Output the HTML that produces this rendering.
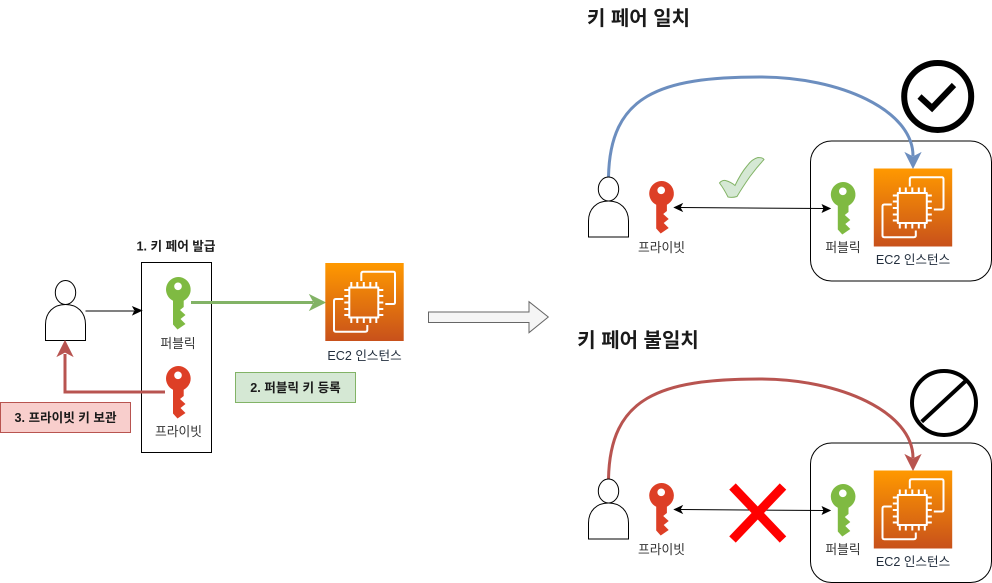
<!DOCTYPE html>
<html><head><meta charset="utf-8"><style>
html,body{margin:0;padding:0;background:#fff}
svg{display:block}
text{font-family:"Liberation Sans","Noto Sans CJK KR",sans-serif;text-anchor:middle}
.l{font-size:12.8px;fill:#333}
.e{font-size:12.6px;fill:#232F3E}
.b{font-size:12.6px;font-weight:bold;fill:#1a1a1a}
.t{font-size:20px;font-weight:bold;fill:#1a1a1a}
</style></head><body>
<svg width="992" height="583" viewBox="0 0 992 583" xmlns="http://www.w3.org/2000/svg">
<defs>
<linearGradient id="g" x1="0" y1="1" x2="0" y2="0"><stop offset="0" stop-color="#C8511B"/><stop offset="1" stop-color="#FF9900"/></linearGradient>
<g id="key"><path fill-rule="evenodd" d="M12.5 0A12.5 12.500 0 0 1 18.200 23.700V30L14.500 33 20 38 15 42 20 47 12 52.500 7.500 47.500V23.700A12.500 12.500 0 0 1 12.500 0ZM12.500 5.500a3.800 3.800 0 1 0 .01 0Z"/></g>
<g id="ec2">
<rect width="78.400" height="78" fill="url(#g)"/>
<g fill="none" stroke="#fff" stroke-width="2" stroke-linejoin="round">
<path d="M36 18V10.500Q36 8.700 38 8.700H68Q69.700 8.700 69.700 10.500V39.500Q69.700 41 68 41H60"/>
<path d="M18 36H10.500Q8.700 36 8.700 38V67Q8.700 68.700 10.500 68.700H40Q42 68.700 42 67V62"/>
<rect x="24" y="24.500" width="29" height="30"/>
<path d="M26 24V19M32 24V19M38.500 24V19M45 24V19M51 24V19M26 55V60M32 55V60M38.500 55V60M45 55V60M51 55V60M24 27H19M24 33H19M24 39.500H19M24 46H19M24 52H19M53 27H58M53 33H58M53 39.500H58M53 46H58M53 52H58"/>
</g></g>
<g id="person" fill="#fff" stroke="#000" stroke-width="1">
<ellipse cx="20" cy="12" rx="10.200" ry="12"/>
<path d="M0 60V44C0 32 8 24 20 24S40 32 40 44V60Z"/>
</g>
</defs>
<rect width="992" height="583" fill="#fff"/>

<!-- left section -->
<use href="#person" x="45.500" y="280.500"/>
<rect x="141.500" y="262.500" width="70" height="190" fill="#fff" stroke="#000"/>
<path d="M85.500 311H134" stroke="#000" fill="none"/>
<path d="M141.500 310.500L133 314.500 135 310.500 133 307Z" fill="#000" stroke="#000"/>
<use href="#key" x="165.500" y="277" fill="#7FBA42"/>
<use href="#key" x="165.500" y="366" fill="#DD3F26"/>
<path d="M191 302.500H313" stroke="#82b366" stroke-width="3" fill="none"/>
<path d="M325 302.500L310 310 314 302.500 310 295Z" fill="#82b366" stroke="#82b366"/>
<path d="M165 392H65V354" stroke="#b85450" stroke-width="3" fill="none"/>
<path d="M65 341L72.500 356 65 352 57.500 356Z" fill="#b85450" stroke="#b85450"/>
<text class="b" x="176" y="250.500">1. 키 페어 발급</text>
<text class="l" x="178" y="348">퍼블릭</text>
<text class="l" x="178.500" y="436">프라이빗</text>
<use href="#ec2" x="325.300" y="263"/>
<text class="e" x="364.500" y="360">EC2 인스턴스</text>
<rect x="235.500" y="372.500" width="120" height="30" fill="#d5e8d4" stroke="#82b366"/>
<text class="b" x="295.500" y="392">2. 퍼블릭 키 등록</text>
<rect x="0.500" y="402.500" width="130" height="30" fill="#f8cecc" stroke="#b85450"/>
<text class="b" x="65.500" y="422">3. 프라이빗 키 보관</text>
<path d="M428.500 312H529V301.700L548.300 317 529 332.700V322.500H428.500Z" fill="#f5f5f5" stroke="#666"/>

<!-- upper right -->
<text class="t" x="638.500" y="25">키 페어 일치</text>
<rect x="810.500" y="141" width="181" height="140" rx="21" fill="#fff" stroke="#000"/>
<path d="M608.500 177C610 95 660 77 760 77C840 77 913 110 913 156" fill="none" stroke="#6c8ebf" stroke-width="3"/>
<path d="M913 168L905.500 153 913 157 920.500 153Z" fill="#6c8ebf" stroke="#6c8ebf"/>
<circle cx="937.700" cy="96.500" r="33.500" fill="#fff" stroke="#000" stroke-width="6"/>
<path d="M919.500 96.500L932 108 954 85" fill="none" stroke="#000" stroke-width="6"/>
<use href="#person" x="588.500" y="177"/>
<use href="#key" x="648.700" y="181" fill="#DD3F26"/>
<use href="#key" x="830.300" y="182" fill="#7FBA42"/>
<use href="#ec2" x="873.800" y="168.500"/>
<path d="M680 207.500L824 208.500" stroke="#000" fill="none"/>
<path d="M674.500 207.500L682 204 680 207.500 682 211Z" fill="#000" stroke="#000"/>
<path d="M830 208.500L822.500 205 824 208.500 822.500 212Z" fill="#000" stroke="#000"/>
<path d="M719.500 183Q722 180 725.500 180.500Q731 182 735 185.500Q741 173 747 166Q752 159 758 157.500Q763 157.500 764 159.500Q757 167 750 176.500Q742 188 737 196.500Q732 198 728 197Q724 189 719.500 183Z" fill="#d5e8d4" stroke="#82b366"/>
<text class="l" x="661.500" y="252">프라이빗</text>
<text class="l" x="843" y="252">퍼블릭</text>
<text class="e" x="913" y="264">EC2 인스턴스</text>

<!-- lower right -->
<text class="t" x="638" y="347">키 페어 불일치</text>
<rect x="810.500" y="443" width="181" height="139.500" rx="21" fill="#fff" stroke="#000"/>
<path d="M608.500 479C610 397 660 379 760 379C840 379 913 412 913 458" fill="none" stroke="#b85450" stroke-width="3"/>
<path d="M913 470L905.500 455 913 459 920.500 455Z" fill="#b85450" stroke="#b85450"/>
<circle cx="944" cy="403" r="32" fill="#fff" stroke="#000" stroke-width="4"/>
<path d="M921.700 421.700L966.700 380" fill="none" stroke="#000" stroke-width="4"/>
<use href="#person" x="588.500" y="479"/>
<use href="#key" x="648.700" y="483" fill="#DD3F26"/>
<use href="#key" x="830.300" y="484" fill="#7FBA42"/>
<use href="#ec2" x="873.800" y="470.500"/>
<path d="M680 509.500L824 510.500" stroke="#000" fill="none"/>
<path d="M674.500 509.500L682 506 680 509.500 682 513Z" fill="#000" stroke="#000"/>
<path d="M830 510.500L822.500 507 824 510.500 822.500 514Z" fill="#000" stroke="#000"/>
<path d="M732.500 486.500L783 539.500M783 486.500L732.500 539.500" stroke="#f00" stroke-width="9" fill="none"/>
<text class="l" x="661.500" y="554">프라이빗</text>
<text class="l" x="843" y="554">퍼블릭</text>
<text class="e" x="913" y="566">EC2 인스턴스</text>
</svg>
</body></html>
